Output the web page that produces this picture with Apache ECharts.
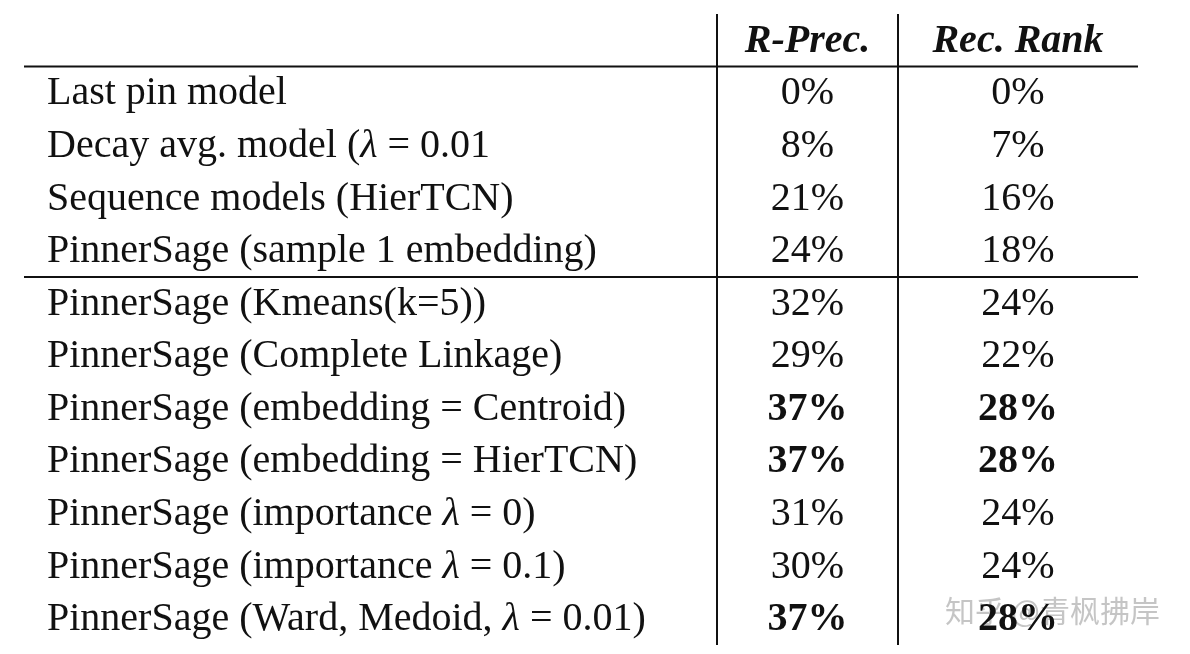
<!DOCTYPE html>
<html><head><meta charset="utf-8">
<script src="https://cdn.jsdelivr.net/npm/echarts@6/dist/echarts.min.js"></script>
<style>html,body{margin:0;background:#fff}#main{width:1190px;height:654px}</style>
</head><body><div id="main"></div>
<script>
const headers = ['', 'R-Prec.', 'Rec. Rank'];
const methods = [
  'Last pin model',
  'Decay avg. model ({l|λ} = 0.01',
  'Sequence models (HierTCN)',
  'PinnerSage (sample 1 embedding)',
  'PinnerSage (Kmeans(k=5))',
  'PinnerSage (Complete Linkage)',
  'PinnerSage (embedding = Centroid)',
  'PinnerSage (embedding = HierTCN)',
  'PinnerSage (importance {l|λ} = 0)',
  'PinnerSage (importance {l|λ} = 0.1)',
  'PinnerSage (Ward, Medoid, {l|λ} = 0.01)'
];
const rPrec = [0, 8, 21, 24, 32, 29, 37, 37, 31, 30, 37];
const recRank = [0, 7, 16, 18, 24, 22, 28, 28, 24, 24, 28];
const bestRows = [6, 7, 10];
const colEdges = [0, 693, 874, 1114];
const ruleRows = [1, 5];

const font = '"Liberation Serif", "DejaVu Serif", serif';
const fs = 40;
const nRows = methods.length + 1;
const rows = [headers].concat(methods.map((m, i) => [m, rPrec[i] + '%', recRank[i] + '%']));

const chart = echarts.init(document.getElementById('main'));
chart.setOption({
  backgroundColor: '#fff',
  animation: false,
  grid: { left: 24, right: 52, top: 14, bottom: 9 },
  xAxis: { type: 'value', min: 0, max: colEdges[3], show: false },
  yAxis: { type: 'value', min: 0, max: nRows, inverse: true, show: false },
  series: [{
    type: 'custom',
    data: rows.map((r, i) => [i]),
    renderItem: (params, api) => {
      const i = api.value(0);
      const r = rows[i];
      const y = api.coord([0, i + 0.5])[1] + 1;
      const children = [];
      const bold = i === 0 || bestRows.includes(i - 1);
      r.forEach((t, c) => {
        if (!t) return;
        const x = c === 0 ? api.coord([0, 0])[0] + 23 : api.coord([(colEdges[c] + colEdges[c + 1]) / 2, 0])[0];
        children.push({
          type: 'text',
          style: {
            x, y, text: t,
            align: c === 0 ? 'left' : 'center', verticalAlign: 'middle',
            font: (i === 0 ? 'italic bold ' : (c > 0 && bold ? 'bold ' : '')) + fs + 'px ' + font,
            fill: '#111',
            rich: { l: { fontStyle: 'italic', fontFamily: font, fontSize: fs, fill: '#111' } }
          }
        });
      });
      return { type: 'group', children };
    }
  }, {
    type: 'custom',
    data: [0],
    renderItem: (params, api) => {
      const children = [];
      const x0 = api.coord([0, 0])[0], x1 = api.coord([colEdges[3], 0])[0];
      ruleRows.forEach(r => {
        const y = api.coord([0, r])[1];
        children.push({ type: 'line', shape: { x1: x0, y1: y, x2: x1, y2: y }, style: { stroke: '#111', lineWidth: 2 } });
      });
      [1, 2].forEach(c => {
        const x = api.coord([colEdges[c], 0])[0];
        const ya = api.coord([0, 0])[1], yb = api.coord([0, nRows])[1];
        children.push({ type: 'line', shape: { x1: x, y1: ya, x2: x, y2: yb }, style: { stroke: '#111', lineWidth: 2 } });
      });
      return { type: 'group', children };
    }
  }],
  graphic: [{
    type: 'text', right: 30, bottom: 28,
    style: { text: '知乎 @青枫拂岸', font: '30px "Noto Sans CJK SC"', fill: 'rgba(150,150,150,0.55)' }
  }]
});
</script></body></html>
